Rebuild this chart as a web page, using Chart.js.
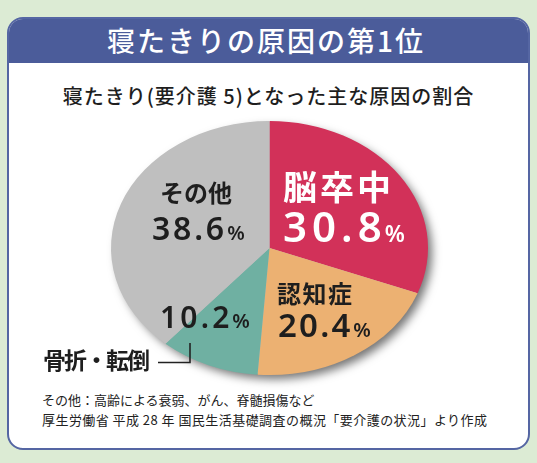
<!DOCTYPE html>
<html><head><meta charset="utf-8">
<script src="https://cdn.jsdelivr.net/npm/chart.js@4.4.1/dist/chart.umd.min.js"></script>
<style>
html,body{margin:0;padding:0;}
body{width:537px;height:463px;background:#dcebd4;position:relative;overflow:hidden;font-family:"Noto Sans CJK JP",sans-serif;}
#card{position:absolute;left:7px;top:17px;width:519px;height:429px;border:2px solid #5566a3;border-radius:16px;background:#fff;overflow:hidden;}
#head{position:absolute;left:0;top:0;width:519px;height:44px;background:#4b5c9a;}
.t{position:absolute;white-space:nowrap;}
#title{left:0;top:17px;width:532px;text-align:center;color:#fff;font-size:28px;font-weight:500;line-height:46px;letter-spacing:2px;}
#sub{left:0;top:84px;width:537px;text-align:center;color:#1e1e1e;font-size:20px;font-weight:500;line-height:24px;letter-spacing:1px;}
.note{left:42px;color:#222;font-size:13px;line-height:18px;}
#c{position:absolute;left:0;top:0;}
</style></head>
<body>
<div id="card"><div id="head"></div></div>
<div class="t" id="title">寝たきりの原因の第1位</div>
<div class="t" id="sub">寝たきり(要介護 5)となった主な原因の割合</div>
<div class="t note" style="top:391px">その他：高齢による衰弱、がん、脊髄損傷など</div>
<div class="t note" style="top:411px;letter-spacing:0.45px">厚生労働省 平成 28 年 国民生活基礎調査の概況「要介護の状況」より作成</div>
<canvas id="c" width="537" height="463"></canvas>
<script>
// ---- data ----
const categories = ['脳卒中', '認知症', '骨折・転倒', 'その他'];
const shares = [30.8, 20.4, 10.2, 38.6];
const unit = '%';
// ---- styles ----
const sliceColors = ['#d23159', '#ecb172', '#6fb0a2', '#bfbfbf'];
const SQUASH = 127 / 158.5;
const labelLayout = [
  {name:{x:283,y:187,size:34,ls:3,color:'#ffffff'}, num:{x:283,y:242,size:42,ls:5,pct:23,gap:3,color:'#ffffff'}},
  {name:{x:277,y:294,size:24,ls:1.5,color:'#1e1e1e'}, num:{x:278,y:337,size:33,ls:2.2,pct:20,gap:3,color:'#1e1e1e'}},
  {name:{x:43,y:360,size:23,ls:-2,color:'#1e1e1e'}, num:{x:160,y:328,size:30,ls:3.2,pct:20,gap:3,color:'#1e1e1e'}, leader:true},
  {name:{x:160,y:193,size:24,ls:0,color:'#1e1e1e'}, num:{x:152,y:240,size:32,ls:2.8,pct:20,gap:3,color:'#1e1e1e'}}
];

const ellipsePlugin = {
  id: 'ellipse',
  beforeDatasetsDraw(chart) {
    const arc = chart.getDatasetMeta(0).data[0];
    const x = arc.x, y = arc.y, r = arc.outerRadius;
    const ctx = chart.ctx;
    ctx.save();
    ctx.translate(x, y); ctx.scale(1, SQUASH); ctx.translate(-x, -y);
    ctx.save();
    ctx.shadowColor = 'rgba(0,0,0,0.55)';
    ctx.shadowBlur = 10;
    ctx.shadowOffsetX = 5;
    ctx.shadowOffsetY = 5;
    ctx.beginPath(); ctx.arc(x, y, r - 1, 0, Math.PI * 2);
    ctx.fillStyle = '#bbbbbb'; ctx.fill();
    ctx.restore();
  },
  afterDatasetsDraw(chart) {
    const ctx = chart.ctx;
    ctx.restore();
    ctx.save();
    categories.forEach((cat, i) => {
      const L = labelLayout[i];
      ctx.fillStyle = L.name.color;
      ctx.font = 'bold ' + L.name.size + 'px "Noto Sans CJK JP"';
      ctx.letterSpacing = L.name.ls + 'px';
      ctx.textBaseline = 'middle';
      ctx.textAlign = 'left';
      ctx.fillText(cat, L.name.x, L.name.y);
      const s = shares[i].toFixed(1);
      ctx.fillStyle = L.num.color;
      ctx.font = '600 ' + L.num.size + 'px "Noto Sans"';
      ctx.letterSpacing = L.num.ls + 'px';
      ctx.textBaseline = 'alphabetic';
      ctx.fillText(s, L.num.x, L.num.y);
      const w = ctx.measureText(s).width;
      ctx.font = '600 ' + L.num.pct + 'px "Noto Sans"';
      ctx.letterSpacing = '0px';
      ctx.fillText(unit, L.num.x + w + L.num.gap - L.num.ls, L.num.y);
      if (L.leader) {
        ctx.strokeStyle = '#222';
        ctx.lineWidth = 1.6;
        ctx.beginPath();
        ctx.moveTo(158, 362.5); ctx.lineTo(190, 362.5); ctx.lineTo(190, 343);
        ctx.stroke();
      }
    });
    ctx.restore();
  }
};

new Chart(document.getElementById('c'), {
  type: 'pie',
  data: {
    labels: categories,
    datasets: [{ data: shares, backgroundColor: sliceColors, borderWidth: 0 }]
  },
  options: {
    responsive: false,
    animation: false,
    layout: { padding: { left: 111, right: 109, top: 89.5, bottom: 56.5 } },
    plugins: { legend: { display: false }, tooltip: { enabled: false } },
    events: []
  },
  plugins: [ellipsePlugin]
});
</script>
</body></html>
